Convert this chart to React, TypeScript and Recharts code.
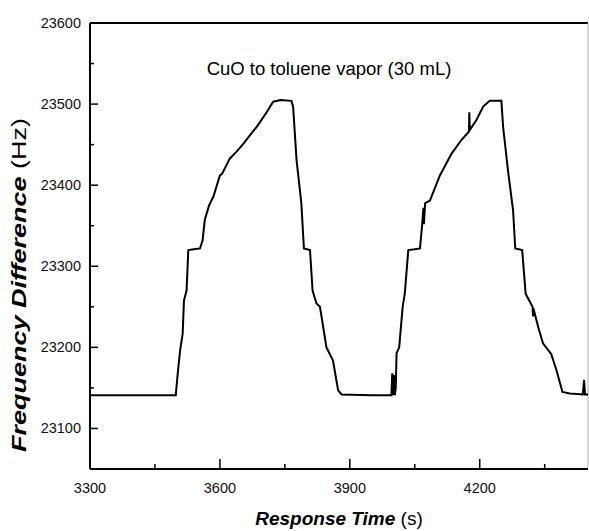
import React from 'react';
import { LineChart, Line, XAxis, YAxis, ReferenceLine } from 'recharts';

// response time (s) and frequency difference (Hz)
const times = [
  3300, 3380, 3460, 3498, 3503, 3508, 3514, 3517, 3523, 3527, 3540, 3554, 3560, 3565, 3575, 3585,
  3600, 3605, 3623, 3638, 3654, 3670, 3685, 3708, 3723, 3740, 3765, 3769, 3777, 3788, 3794, 3808,
  3814, 3823, 3831, 3846, 3861, 3873, 3881, 3950, 3996, 3998, 4000, 4002, 4004, 4006, 4008, 4014,
  4022, 4027, 4035, 4050, 4062, 4066, 4070, 4071, 4074, 4085, 4108, 4123, 4135, 4158, 4175, 4176,
  4177, 4192, 4208, 4223, 4250, 4254, 4265, 4277, 4282, 4298, 4306, 4322, 4323, 4324, 4335, 4346,
  4365, 4377, 4391, 4408, 4438, 4441, 4443, 4450,
];
const freqs = [
  23141, 23141, 23141, 23141, 23170, 23196, 23217, 23258, 23270, 23320, 23321, 23322, 23332, 23357, 23375, 23386,
  23412, 23414, 23433, 23441, 23451, 23462, 23472, 23490, 23503, 23505, 23504, 23497, 23431, 23378, 23322, 23320,
  23270, 23254, 23250, 23200, 23184, 23147, 23142, 23141, 23141, 23168, 23141, 23166, 23141, 23150, 23193, 23200,
  23250, 23267, 23320, 23321, 23322, 23345, 23372, 23352, 23378, 23381, 23412, 23427, 23439, 23456, 23466, 23490,
  23468, 23480, 23497, 23504, 23504, 23472, 23419, 23369, 23322, 23320, 23266, 23250, 23238, 23248, 23225, 23205,
  23192, 23172, 23145, 23143, 23142, 23160, 23142, 23142,
];

const xTicks = [3300, 3450, 3600, 3750, 3900, 4050, 4200, 4350];
const xLabels = [3300, 3600, 3900, 4200];
const yTicks = [23100, 23150, 23200, 23250, 23300, 23350, 23400, 23450, 23500, 23550, 23600];
const yLabels = [23100, 23200, 23300, 23400, 23500, 23600];

const data = times.map((t, i) => ({ t, f: freqs[i] }));

const FONT = '"Liberation Sans", Arial, sans-serif';

const XTick = (props: any) => {
  const { x, y, payload } = props;
  const major = xLabels.includes(payload.value);
  return (
    <g>
      <line x1={x} x2={x} y1={y} y2={y - (major ? 10 : 5)} stroke="#000" strokeWidth={1.5} />
      {major && (
        <text x={x} y={y + 24} textAnchor="middle" fontFamily={FONT} fontSize={14.5} fill="#111">
          {payload.value}
        </text>
      )}
    </g>
  );
};

const YTick = (props: any) => {
  const { x, y, payload } = props;
  const major = yLabels.includes(payload.value);
  return (
    <g>
      <line x1={x} x2={x + (major ? 8 : 4)} y1={y} y2={y} stroke="#000" strokeWidth={1.5} />
      {major && (
        <text x={x - 9} y={y + 5} textAnchor="end" fontFamily={FONT} fontSize={14.5} fill="#111">
          {payload.value}
        </text>
      )}
    </g>
  );
};

const XTitle = () => (
  <text x={339} y={525} textAnchor="middle" fontFamily={FONT} fontSize={19} fill="#000">
    <tspan fontWeight="bold" fontStyle="italic">Response Time</tspan>
    <tspan> (s)</tspan>
  </text>
);

const YTitle = () => (
  <text
    x={285}
    y={26}
    transform="rotate(-90 0 0) translate(-570 0)"
    textAnchor="middle"
    fontFamily={FONT}
    fontSize={19.5}
    fill="#000"
    textLength={334}
    lengthAdjust="spacingAndGlyphs"
  >
    <tspan fontWeight="bold" fontStyle="italic">Frequency Difference</tspan>
    <tspan> (Hz)</tspan>
  </text>
);

const Title = () => (
  <text x={329} y={75} textAnchor="middle" fontFamily={FONT} fontSize={18.5} fill="#000">
    CuO to toluene vapor (30 mL)
  </text>
);

export default function App() {
  return (
    <div style={{ position: 'absolute', left: 0, top: 0, background: '#fff' }}>
      <LineChart width={589} height={531} data={data} margin={{ top: 23, right: 1, bottom: 32, left: 0 }}>
        <XAxis
          dataKey="t"
          type="number"
          domain={[3300, 4450]}
          ticks={xTicks}
          interval={0}
          allowDataOverflow
          height={30}
          tickSize={0}
          tickMargin={0}
          tickLine={false}
          tick={<XTick />}
          axisLine={{ stroke: '#000', strokeWidth: 2 }}
          label={{ content: () => <XTitle /> }}
        />
        <YAxis
          dataKey="f"
          type="number"
          domain={[23050, 23600]}
          ticks={yTicks}
          interval={0}
          allowDataOverflow
          width={90}
          tickSize={0}
          tickMargin={0}
          tickLine={false}
          tick={<YTick />}
          axisLine={{ stroke: '#000', strokeWidth: 2 }}
          label={{ content: () => <YTitle /> }}
        />
        <ReferenceLine y={23600} stroke="#000" strokeWidth={2} label={{ content: () => <Title /> }} />
        <ReferenceLine x={4450} stroke="#b0b0b0" strokeWidth={1} />
        <Line
          type="linear"
          dataKey="f"
          stroke="#000"
          strokeWidth={2}
          dot={false}
          isAnimationActive={false}
        />
      </LineChart>
    </div>
  );
}
